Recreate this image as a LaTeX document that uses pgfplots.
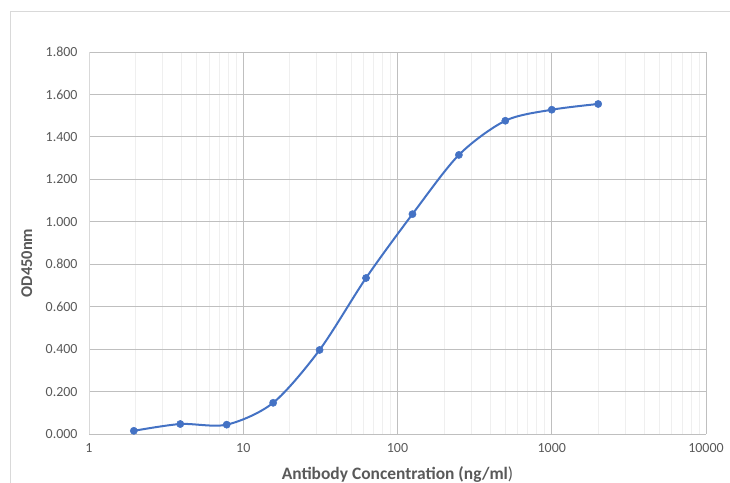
\documentclass[border=0pt]{standalone}
\usepackage{fontspec}
\setmainfont{Carlito}
\usepackage{pgfplots}
\pgfplotsset{compat=1.18}
\definecolor{txt}{HTML}{595959}
\definecolor{grid}{HTML}{D9D9D9}
\definecolor{mgrid}{HTML}{EFEFEF}
\definecolor{line}{HTML}{4472C4}
\begin{document}
\begin{tikzpicture}[x=1bp,y=1bp]
\begin{axis}[
  at={(89bp,49bp)}, anchor=south west,
  scale only axis, width=617bp, height=382bp,
  xmode=log, xmin=1, xmax=10000,
  ymin=0, ymax=1.8,
  xtick={1,10,100,1000,10000},
  xticklabels={1,10,100,1000,10000},
  ytick={0,0.2,0.4,0.6,0.8,1.0,1.2,1.4,1.6,1.8},
  /pgf/number format/fixed, /pgf/number format/fixed zerofill,
  /pgf/number format/precision=3, /pgf/number format/assume math mode=true,
  ticklabel style={font=\fontsize{14}{16}\selectfont, text=txt},
  xticklabel style={yshift=-6bp},
  yticklabel style={xshift=-8bp},
  major tick length=0pt, minor tick length=0pt,
  grid=both,
  major grid style={grid, line width=0.8bp},
  minor grid style={mgrid, line width=0.8bp},
  axis line style={grid, line width=0.8bp},
  axis x line*=bottom, axis y line*=left,
  x axis line style={-, color=black!25},
  y axis line style={-},
  xlabel={\textbf{Antibody Concentration (ng/ml})},
  ylabel={\textbf{OD450nm}},
  xlabel style={font=\fontsize{17.5}{19}\selectfont, text=txt, at={(0.5,0)}, anchor=base, yshift=-46bp},
  ylabel style={font=\fontsize{16.5}{18}\selectfont, text=txt, yshift=6.5bp, xshift=-20bp},
  clip=false,
]
\addplot[line, line width=2bp, smooth, tension=0.5, mark=*, mark size=3.6bp, mark options={fill=line, draw=line, line width=0.5bp}]
coordinates {
(1.953,0.015)
(3.906,0.047)
(7.8125,0.044)
(15.625,0.147)
(31.25,0.396)
(62.5,0.735)
(125,1.036)
(250,1.315)
(500,1.476)
(1000,1.528)
(2000,1.555)
};
\end{axis}
\draw[grid, line width=0.8bp] (10,0) -- (10,472) -- (740,472);
\pgfresetboundingbox
\useasboundingbox (0,0) rectangle (730,483);
\end{tikzpicture}
\end{document}
